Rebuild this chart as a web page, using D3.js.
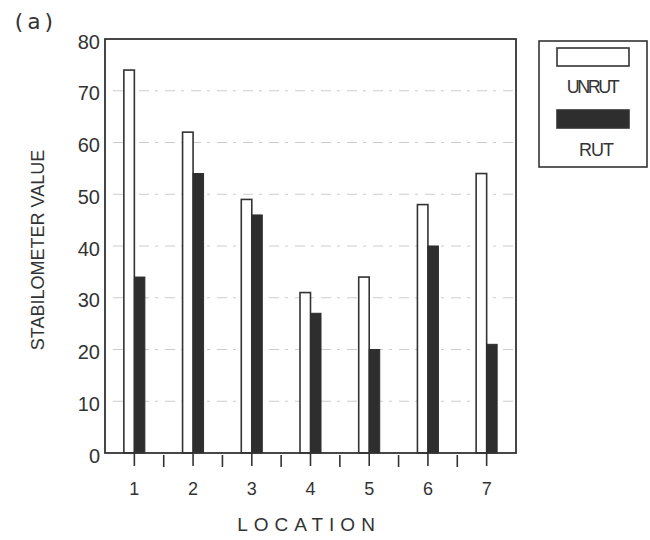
<!DOCTYPE html>
<html>
<head>
<meta charset="utf-8">
<script src="https://cdn.jsdelivr.net/npm/d3@7"></script>
<style>
  body { margin: 0; background: #fff; }
  text { font-family: "Liberation Sans", Arial, sans-serif; fill: #333; }
</style>
</head>
<body>
<div id="chart"></div>
<script>
var width = 650,
    height = 540;

// data
var locations = ["1", "2", "3", "4", "5", "6", "7"];
var unrutValues = [74, 62, 49, 31, 34, 48, 54];
var rutValues = [34, 54, 46, 27, 20, 40, 21];
var yTicks = [0, 10, 20, 30, 40, 50, 60, 70, 80];
var seriesNames = ["UNRUT", "RUT"];

var plotLeft = 105, plotRight = 516, plotTop = 39, plotBottom = 453;
var barW = 10.5;

var svg = d3.select("#chart").append("svg")
            .attr("width", width)
            .attr("height", height);

var x = d3.scaleBand()
          .domain(locations)
          .range([plotLeft, plotRight])
          .padding(0);

var y = d3.scaleLinear()
          .domain([0, 80])
          .range([plotBottom, plotTop]);

// grid lines
svg.append("g")
  .selectAll("line")
  .data(yTicks.filter(function(d) { return d > 0 && d < 80; }))
  .enter()
  .append("line")
  .attr("x1", plotLeft + 8)
  .attr("x2", plotRight)
  .attr("y1", function(d) { return y(d); })
  .attr("y2", function(d) { return y(d); })
  .attr("stroke", "#cccccc")
  .attr("stroke-width", 1)
  .attr("stroke-dasharray", "10,6,3,7");

// bars
var g = svg.append("g");
g.selectAll(".unrut")
  .data(unrutValues)
  .enter()
  .append("rect")
  .attr("class", "unrut")
  .attr("x", function(d, i) { return x(locations[i]) + x.bandwidth() / 2 - barW; })
  .attr("y", function(d) { return y(d); })
  .attr("width", barW)
  .attr("height", function(d) { return plotBottom - y(d); })
  .attr("fill", "#fff")
  .attr("stroke", "#333")
  .attr("stroke-width", 1.6);

g.selectAll(".rut")
  .data(rutValues)
  .enter()
  .append("rect")
  .attr("class", "rut")
  .attr("x", function(d, i) { return x(locations[i]) + x.bandwidth() / 2; })
  .attr("y", function(d) { return y(d); })
  .attr("width", barW)
  .attr("height", function(d) { return plotBottom - y(d); })
  .attr("fill", "#2e2e2e")
  .attr("stroke", "#2e2e2e")
  .attr("stroke-width", 1);

// frame
svg.append("rect")
  .attr("x", plotLeft)
  .attr("y", plotTop)
  .attr("width", plotRight - plotLeft)
  .attr("height", plotBottom - plotTop)
  .attr("fill", "none")
  .attr("stroke", "#333")
  .attr("stroke-width", 1.8);

// y axis
var yAxis = svg.append("g")
  .attr("transform", "translate(" + plotLeft + ",0)")
  .call(d3.axisLeft(y).tickValues(yTicks).tickSize(0).tickPadding(5));
yAxis.select(".domain").remove();
yAxis.selectAll("text")
  .attr("font-size", 20)
  .attr("fill", "#333")
  .attr("dy", "0.45em");

// x axis
var xAxis = svg.append("g")
  .attr("transform", "translate(0," + plotBottom + ")")
  .call(d3.axisBottom(x).tickSize(13).tickSizeOuter(0).tickPadding(16));
xAxis.select(".domain").remove();
xAxis.selectAll(".tick line").attr("stroke", "#333").attr("stroke-width", 1.6);
xAxis.selectAll("text")
  .attr("font-size", 18)
  .attr("fill", "#333");

// minor ticks between locations
svg.append("g")
  .selectAll("line")
  .data(locations.slice(0, -1))
  .enter()
  .append("line")
  .attr("x1", function(d) { return x(d) + x.bandwidth(); })
  .attr("x2", function(d) { return x(d) + x.bandwidth(); })
  .attr("y1", plotBottom + 2)
  .attr("y2", plotBottom + 14)
  .attr("stroke", "#333")
  .attr("stroke-width", 1.6);

// axis titles
svg.append("text")
  .attr("transform", "translate(44,250)rotate(-90)")
  .attr("text-anchor", "middle")
  .attr("font-size", 18)
  .text("STABILOMETER  VALUE");

svg.append("text")
  .attr("x", 309)
  .attr("y", 531)
  .attr("text-anchor", "middle")
  .attr("font-size", 19)
  .attr("letter-spacing", 6)
  .text("LOCATION");

svg.append("text")
  .attr("x", 12)
  .attr("y", 29)
  .attr("font-size", 22)
  .attr("letter-spacing", 2)
  .style("font-family", "DejaVu Sans Mono, monospace")
  .text("(a)");

// legend
var legend = svg.append("g");
legend.append("rect")
  .attr("x", 539).attr("y", 41)
  .attr("width", 108).attr("height", 126)
  .attr("fill", "#fff")
  .attr("stroke", "#333")
  .attr("stroke-width", 1.6);

legend.selectAll(".swatch")
  .data(seriesNames)
  .enter()
  .append("rect")
  .attr("class", "swatch")
  .attr("x", 557)
  .attr("y", function(d, i) { return i === 0 ? 48 : 110; })
  .attr("width", 72)
  .attr("height", 18)
  .attr("fill", function(d, i) { return i === 0 ? "#fff" : "#2e2e2e"; })
  .attr("stroke", "#333")
  .attr("stroke-width", 1.6);

legend.selectAll(".lbl")
  .data(seriesNames)
  .enter()
  .append("text")
  .attr("class", "lbl")
  .attr("x", function(d, i) { return i === 0 ? 592 : 596; })
  .attr("y", function(d, i) { return i === 0 ? 93 : 156; })
  .attr("text-anchor", "middle")
  .attr("font-size", 18)
  .attr("letter-spacing", function(d, i) { return i === 0 ? -2.5 : -1; })
  .text(function(d) { return d; });
</script>
</body>
</html>
